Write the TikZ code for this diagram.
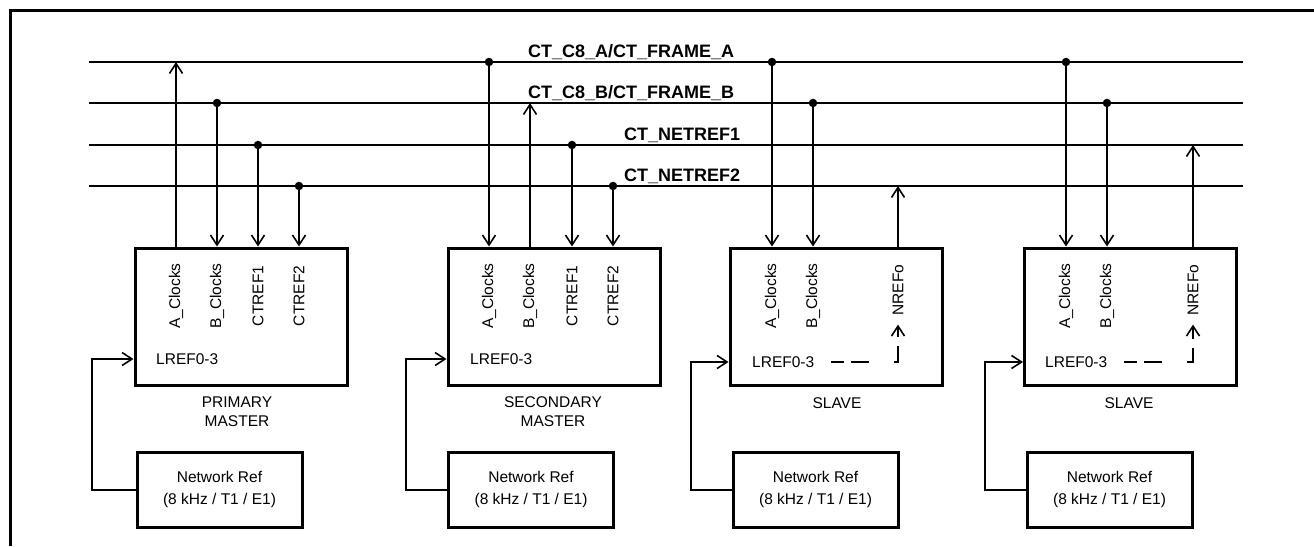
\documentclass[tikz,border=0pt]{standalone}
\usepackage{fontspec}
\setmainfont{Liberation Sans}
\usetikzlibrary{arrows.meta,positioning}

\begin{document}
\begin{tikzpicture}[x=1pt,y=-1pt,
  wire/.style={line width=2pt},
  up/.style={wire,-{Straight Barb[length=10pt,width=13pt,line width=1.6pt]}},
  down/.style={wire,-{Straight Barb[length=10pt,width=13pt,line width=1.6pt]}},
  dot/.style={circle,fill,inner sep=0pt,minimum size=8.5pt},
  unit/.style={draw,line width=3pt,minimum width=212pt,minimum height=137pt},
  netbox/.style={draw,line width=3pt,minimum width=165pt,minimum height=75pt,
    align=center,font=\fontsize{15.5}{22}\selectfont},
  sig/.style={rotate=90,inner sep=0pt,font=\fontsize{15.5}{18}\selectfont},
  lbl/.style={anchor=west,inner sep=0pt,font=\fontsize{15.5}{18}\selectfont},
  role/.style={align=center,font=\fontsize{15.5}{19}\selectfont},
  buslbl/.style={anchor=base west,inner sep=0pt,font=\fontsize{18}{20}\bfseries\selectfont},
  refdash/.style={wire,dash pattern=on 13pt off 7pt on 18pt off 25pt on 20pt off 9pt on 30pt,
    -{Straight Barb[length=10pt,width=13pt,line width=1.6pt]}}]
\useasboundingbox (0,0) rectangle (1314,546);
\draw[line width=3pt] (1314,10) -- (10,10) -- (10,546);

\coordinate (busA) at (89,62);
\coordinate (busAe) at (1243,62);
\coordinate (busB) at (89,103);
\coordinate (busBe) at (1243,103);
\coordinate (busC) at (89,145);
\coordinate (busCe) at (1243,145);
\coordinate (busD) at (89,186);
\coordinate (busDe) at (1243,186);

\draw[wire] (busA) -- (busAe);
\draw[wire] (busB) -- (busBe);
\draw[wire] (busC) -- (busCe);
\draw[wire] (busD) -- (busDe);

\node[buslbl] (lblA) at (528,57) {CT\_C8\_A/CT\_FRAME\_A};
\node[buslbl] (lblB) at (528,98) {CT\_C8\_B/CT\_FRAME\_B};
\node[buslbl] (lblC) at (624,140) {CT\_NETREF1};
\node[buslbl] (lblD) at (624,181) {CT\_NETREF2};

\node[unit] (pm) at (241,316.5) {};
\node[unit] (sm) at (554,316.5) {};
\node[unit] (sa) at (836,316.5) {};
\node[unit] (sb) at (1130.5,316.5) {};

\node[sig] (pmA) at (176,296) {A\_Clocks};
\node[sig] (pmB) at (217,296) {B\_Clocks};
\node[sig] (pmC) at (258,296) {CTREF1};
\node[sig] (pmD) at (299,296) {CTREF2};
\node[sig] (smA) at (489,296) {A\_Clocks};
\node[sig] (smB) at (530,296) {B\_Clocks};
\node[sig] (smC) at (572,296) {CTREF1};
\node[sig] (smD) at (613,296) {CTREF2};
\node[sig] (saA) at (772,296) {A\_Clocks};
\node[sig] (saB) at (813,296) {B\_Clocks};
\node[sig] (saN) at (898,290) {NREFo};
\node[sig] (sbA) at (1066,296) {A\_Clocks};
\node[sig] (sbB) at (1107,296) {B\_Clocks};
\node[sig] (sbN) at (1193,290) {NREFo};

\node[lbl] (pmL) at (156,359) {LREF0-3};
\node[lbl] (smL) at (470,359) {LREF0-3};
\node[lbl] (saL) at (752,362) {LREF0-3};
\node[lbl] (sbL) at (1045,362) {LREF0-3};

\node[role] (pmR) at (237,412) {PRIMARY\\MASTER};
\node[role] (smR) at (553,412) {SECONDARY\\MASTER};
\node[role] (saR) at (837,403) {SLAVE};
\node[role] (sbR) at (1129,403) {SLAVE};

\node[netbox] (pmN) at (219.5,489.5) {Network Ref\\ (8 kHz / T1 / E1)};
\node[netbox] (smN) at (531,489.5) {Network Ref\\ (8 kHz / T1 / E1)};
\node[netbox] (saNet) at (815.5,489.5) {Network Ref\\ (8 kHz / T1 / E1)};
\node[netbox] (sbNet) at (1109.5,489.5) {Network Ref\\ (8 kHz / T1 / E1)};

\node[dot] (dpmB) at (pmB |- busB) {};
\node[dot] (dpmC) at (pmC |- busC) {};
\node[dot] (dpmD) at (pmD |- busD) {};
\node[dot] (dsmA) at (smA |- busA) {};
\node[dot] (dsmC) at (smC |- busC) {};
\node[dot] (dsmD) at (smD |- busD) {};
\node[dot] (dsaA) at (saA |- busA) {};
\node[dot] (dsaB) at (saB |- busB) {};
\node[dot] (dsbA) at (sbA |- busA) {};
\node[dot] (dsbB) at (sbB |- busB) {};

\draw[up] (pmA |- pm.north) -- (pmA |- busA);
\draw[down] (dpmB) -- (pmB |- pm.north);
\draw[down] (dpmC) -- (pmC |- pm.north);
\draw[down] (dpmD) -- (pmD |- pm.north);

\draw[down] (dsmA) -- (smA |- sm.north);
\draw[up] (smB |- sm.north) -- (smB |- busB);
\draw[down] (dsmC) -- (smC |- sm.north);
\draw[down] (dsmD) -- (smD |- sm.north);

\draw[down] (dsaA) -- (saA |- sa.north);
\draw[down] (dsaB) -- (saB |- sa.north);
\draw[up] (saN |- sa.north) -- (saN |- busD);

\draw[down] (dsbA) -- (sbA |- sb.north);
\draw[down] (dsbB) -- (sbB |- sb.north);
\draw[up] (sbN |- sb.north) -- (sbN |- busC);

\draw[up] (pmN.west) -- ++(-44,0) |- (pm.west |- pmL);
\draw[up] (smN.west) -- ++(-41,0) |- (sm.west |- smL);
\draw[up] (saNet.west) -- ++(-41,0) |- (sa.west |- saL);
\draw[up] (sbNet.west) -- ++(-41,0) |- (sb.west |- sbL);

\draw[refdash] ([xshift=17pt]saL.east) -| ([yshift=-9pt]saN.west);
\draw[refdash] ([xshift=17pt]sbL.east) -| ([yshift=-9pt]sbN.west);
\end{tikzpicture}
\end{document}
